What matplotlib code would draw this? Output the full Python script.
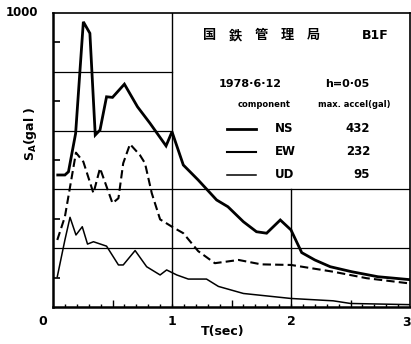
import matplotlib
matplotlib.use('Agg')
import matplotlib.pyplot as plt

# response spectra, h=0.05
ns_t = [0.04, 0.10, 0.13, 0.19, 0.255, 0.31, 0.355, 0.395, 0.45, 0.50, 0.60, 0.71, 0.815, 0.95, 1.00,
        1.095, 1.22, 1.375, 1.47, 1.60, 1.71, 1.795, 1.91, 2.00, 2.09, 2.20, 2.33, 2.51, 2.73, 3.00]
ns_v = [449, 449, 460, 590, 970, 931, 585, 602, 715, 713, 758, 681, 625, 548, 596,
        483, 432, 364, 341, 290, 256, 251, 296, 262, 185, 160, 137, 120, 103, 93]

ew_t = [0.036, 0.10, 0.193, 0.255, 0.34, 0.395, 0.50, 0.55, 0.59, 0.647, 0.73, 0.773, 0.83, 0.90,
        1.00, 1.095, 1.22, 1.36, 1.56, 1.75, 2.00, 2.355, 2.635, 3.00]
ew_v = [228, 307, 525, 494, 387, 472, 353, 370, 489, 554, 517, 489, 387, 298,
        273, 251, 190, 149, 160, 145, 143, 120, 98, 80]

ud_t = [0.036, 0.10, 0.143, 0.193, 0.246, 0.29, 0.34, 0.45, 0.55, 0.59, 0.69, 0.787, 0.90, 0.955,
        1.04, 1.137, 1.29, 1.39, 1.60, 2.00, 2.355, 2.50, 3.00]
ud_v = [103, 228, 305, 245, 273, 214, 222, 207, 143, 143, 192, 137, 109, 126,
        109, 95, 95, 70, 46, 29, 21, 12, 8]

components = ['NS', 'EW', 'UD']
max_accel = [432, 232, 95]
station = '国鉄管理局'

plt.rcParams['font.family'] = ['DejaVu Sans', 'Noto Sans CJK JP']

fig = plt.figure(figsize=(4.11, 3.44), dpi=100)
ax = fig.add_axes([53 / 411, 1 - 307 / 344, 357 / 411, 294 / 344])

ax.plot(ns_t, ns_v, color='black', lw=2.0, solid_joinstyle='miter')
ax.plot(ew_t, ew_v, color='black', lw=1.5, dashes=(4, 2))
ax.plot(ud_t, ud_v, color='black', lw=1.1)

ax.set_xlim(0, 3)
ax.set_ylim(0, 1000)

# grid, left open where the legend block sits
for y in (200, 400):
    ax.plot([0, 3], [y, y], color='black', lw=0.9)
for y in (600, 800):
    ax.plot([0, 1], [y, y], color='black', lw=0.9)
ax.plot([1, 1], [0, 1000], color='black', lw=1.0)
ax.plot([2, 2], [0, 400], color='black', lw=1.0)

for side in ('left', 'bottom'):
    ax.spines[side].set_linewidth(1.8)
for side in ('top', 'right'):
    ax.spines[side].set_linewidth(1.2)

ax.set_xticks([0.5, 1.5, 2.5])
ax.set_xticks([i / 10 for i in range(1, 30)], minor=True)
ax.set_yticks([100, 300, 500, 700, 900])
ax.tick_params(axis='both', which='both', direction='in', labelleft=False, labelbottom=False)
ax.tick_params(axis='x', which='major', length=5, width=1)
ax.tick_params(axis='x', which='minor', length=2.5, width=1)
ax.tick_params(axis='y', which='major', length=5, width=1.2)

bold = dict(fontweight='bold', color='black')
for t in (1, 2):
    ax.text(t, -50, str(t), ha='center', va='center', fontsize=9, **bold)
fig.text(0.999, 1 - 323 / 344, '3', ha='right', va='center', fontsize=9, **bold)
ax.text(-0.09, -50, '0', ha='center', va='center', fontsize=9, **bold)
ax.text(-0.265, 1000, '1000', ha='center', va='center', fontsize=8.5, **bold)
ax.text(1.43, -85, 'T(sec)', ha='center', va='center', fontsize=9, **bold)
ax.text(-0.19, 590, r'$\mathbf{S_A}$(gal )', ha='center', va='center', rotation=90, fontsize=9, **bold)

for i, ch in enumerate(station):
    ax.text(1.315 + i * 0.2185, 925, ch, ha='center', va='center', fontsize=9.5,
            family=['Noto Sans CJK JP', 'DejaVu Sans'], fontweight='bold')
ax.text(2.705, 925, 'B1F', ha='center', va='center', fontsize=9, **bold)
ax.text(1.66, 760, '1978·6·12', ha='center', va='center', fontsize=8, **bold)
ax.text(2.47, 760, 'h=0·05', ha='center', va='center', fontsize=8, **bold)
ax.text(1.77, 690, 'component', ha='center', va='center', fontsize=6, **bold)
ax.text(2.535, 690, 'max. accel(gal)', ha='center', va='center', fontsize=6, **bold)

leg_y = [606, 528, 449]
leg_w = [2.0, 1.5, 1.1]
for name, acc, y, w in zip(components, max_accel, leg_y, leg_w):
    ax.plot([1.46, 1.71], [y, y], color='black', lw=w)
    ax.text(1.865, y, name, ha='left', va='center', fontsize=8.5, **bold)
    ax.text(2.665, y, str(acc), ha='right', va='center', fontsize=8.5, **bold)

fig.savefig('out.png', dpi=100)
